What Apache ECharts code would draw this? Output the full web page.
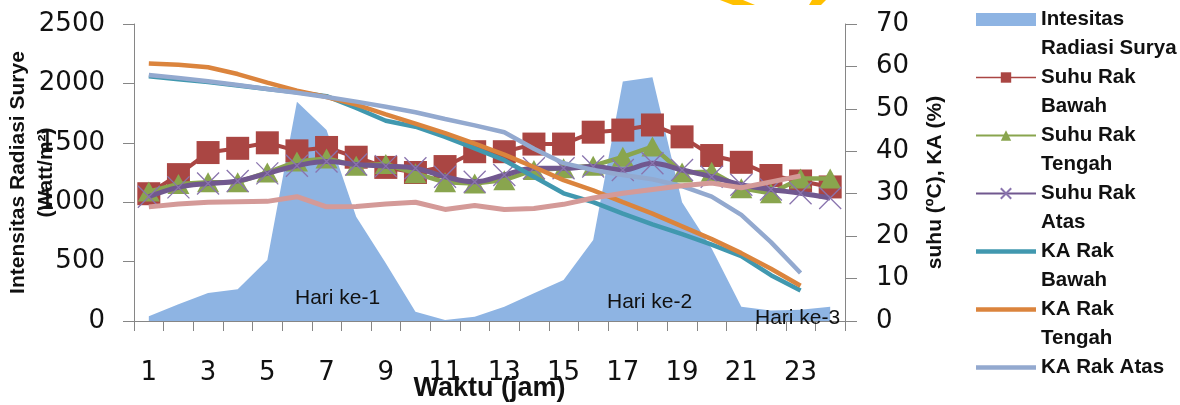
<!DOCTYPE html>
<html>
<head>
<meta charset="utf-8">
<script src="https://cdn.jsdelivr.net/npm/echarts@6/dist/echarts.min.js"></script>
<style>
  html, body { margin: 0; padding: 0; background: #ffffff; }
  #chart { width: 1180px; height: 405px; }
</style>
</head>
<body>
<div id="chart"></div>
<script>
// Hour of observation (x axis)
const hours = ['1','2','3','4','5','6','7','8','9','10','11','12',
               '13','14','15','16','17','18','19','20','21','22','23','24'];

// Solar radiation intensity, Watt/m2 (left axis)
const radiasi = [40, 140, 235, 268, 513, 1846, 1608, 878, 486, 78, 8, 36,
                 120, 233, 345, 682, 2017, 2051, 1000, 610, 120, 88, 95, 120];

// Rack temperatures, degC (right axis)
const suhuBawah  = [30.0, 34.5, 39.7, 40.7, 42.0, 40.1, 40.9, 38.6, 36.2, 35.0, 36.4, 39.9,
                    39.9, 41.7, 41.7, 44.5, 45.0, 46.2, 43.4, 39.0, 37.4, 34.3, 33.0, 31.6];
const suhuTengah = [30.5, 32.3, 32.7, 32.7, 35.0, 37.6, 38.3, 36.6, 37.0, 34.8, 32.7, 32.4,
                    33.2, 35.6, 36.0, 36.6, 38.7, 41.1, 35.0, 35.2, 31.3, 30.1, 33.6, 33.6];
const suhuAtas   = [29.3, 31.5, 32.4, 33.0, 34.8, 36.6, 37.6, 36.9, 36.5, 36.0, 34.0, 32.8,
                    34.4, 36.0, 36.0, 36.4, 35.6, 37.2, 35.6, 34.0, 32.1, 31.0, 30.1, 29.0];

// Moisture content of the racks, % (right axis)
const kaBawah  = [57.7, 57.0, 56.3, 55.5, 54.7, 53.9, 53.0, 50.2, 47.2, 45.8, 43.4, 40.7,
                  37.9, 34.0, 30.1, 28.0, 25.3, 22.8, 20.5, 18.0, 15.3, 10.8, 7.2, null];
const kaTengah = [60.7, 60.4, 59.8, 58.2, 56.2, 54.3, 52.8, 51.0, 48.7, 46.5, 44.3, 41.8,
                  39.2, 36.3, 33.2, 30.8, 28.0, 25.3, 22.3, 19.3, 16.0, 12.3, 8.3, null];
const kaAtas   = [58.0, 57.3, 56.5, 55.6, 54.7, 53.8, 52.8, 51.7, 50.5, 49.2, 47.6, 46.1,
                  44.5, 40.6, 37.2, 35.6, 34.4, 33.4, 31.8, 29.3, 25.0, 18.6, 11.3, null];

// Ambient temperature, degC (right axis, not listed in the legend)
const suhuLingkungan = [26.9, 27.6, 28.0, 28.1, 28.2, 29.3, 26.9, 27.0, 27.6, 28.0, 26.3, 27.2,
                        26.3, 26.5, 27.5, 29.0, 30.1, 31.0, 31.9, 32.5, 31.4, 32.8, 34.2, null];

// Legend entries and their wrapped text
const legendNames = ['Intesitas Radiasi Surya', 'Suhu Rak Bawah', 'Suhu Rak Tengah',
                     'Suhu Rak Atas', 'KA Rak Bawah', 'KA Rak Tengah', 'KA Rak Atas'];
const legendLines = {
  'Intesitas Radiasi Surya': ['Intesitas', 'Radiasi Surya'],
  'Suhu Rak Bawah': ['Suhu Rak', 'Bawah'],
  'Suhu Rak Tengah': ['Suhu Rak', 'Tengah'],
  'Suhu Rak Atas': ['Suhu Rak', 'Atas'],
  'KA Rak Bawah': ['KA Rak', 'Bawah'],
  'KA Rak Tengah': ['KA Rak', 'Tengah'],
  'KA Rak Atas': ['KA Rak Atas', ' ']
};

// Day annotations
const dayLabels = ['Hari ke-1', 'Hari ke-2', 'Hari ke-3'];

const C = {
  area: '#8EB4E3',
  red: '#AA4643',
  green: '#89A54E',
  purple: '#71588F',
  purpleMark: '#8A74AE',
  teal: '#4198AF',
  orange: '#DB843D',
  lightBlue: '#93A9CF',
  pink: '#D49A98',
  axis: '#868686',
  text: '#111111'
};

const tickFont = { fontFamily: 'DejaVu Sans', fontSize: 26, color: C.text };
const boldFont = { fontFamily: 'Liberation Sans', fontWeight: 'bold', color: C.text };
// plain horizontal bar used as legend icon for lines without markers
const lineIcon = 'path://M0,0L60,0L60,4.5L0,4.5Z';

const chart = echarts.init(document.getElementById('chart'), null, { renderer: 'canvas' });

const option = {
  animation: false,
  backgroundColor: '#ffffff',
  grid: { left: 134, right: 335, top: 24, bottom: 84, outerBoundsMode: 'none', containLabel: false },
  legend: {
    orient: 'vertical',
    left: 975,
    top: -24,
    height: 600,
    padding: 0,
    itemWidth: 60,
    itemHeight: 13,
    itemGap: -29,
    selectedMode: false,
    // a blank first line keeps the icon level with the entry's first text line
    formatter: name => ' \n' + legendLines[name].join('\n'),
    textStyle: Object.assign({}, boldFont, { fontSize: 20.5, lineHeight: 29 }),
    data: legendNames.map((n, i) => {
      const d = { name: n };
      if (i === 0) d.icon = 'rect';
      if (i === 1) d.lineStyle = { width: 1.5 };
      if (i >= 4) d.icon = lineIcon;
      return d;
    })
  },
  xAxis: {
    type: 'category',
    data: hours,
    boundaryGap: true,
    axisLine: { show: true, lineStyle: { color: C.axis, width: 1 } },
    axisTick: { show: true, interval: 0, length: 10, lineStyle: { color: C.axis, width: 1 } },
    axisLabel: Object.assign({ interval: 1, margin: 39 }, tickFont),
    splitLine: { show: false },
    name: 'Waktu (jam)',
    nameLocation: 'middle',
    nameGap: 54,
    nameMoveOverlap: false,
    nameTextStyle: Object.assign({ fontSize: 27 }, boldFont)
  },
  yAxis: [
    {
      type: 'value',
      position: 'left',
      min: 0, max: 2500, interval: 500,
      axisLine: { show: true, lineStyle: { color: C.axis, width: 1 } },
      axisTick: { show: true, length: 11, lineStyle: { color: C.axis, width: 1 } },
      axisLabel: Object.assign({ margin: 29, formatter: v => String(v) }, tickFont),
      splitLine: { show: false },
      name: 'Intensitas Radiasi Surye\n(Watt/m²)',
      nameLocation: 'middle',
      nameRotate: 90,
      nameGap: 74,
      nameMoveOverlap: false,
      nameTextStyle: Object.assign({ fontSize: 21, lineHeight: 28 }, boldFont)
    },
    {
      type: 'value',
      position: 'right',
      min: 0, max: 70, interval: 10,
      axisLine: { show: true, lineStyle: { color: C.axis, width: 1 } },
      axisTick: { show: true, length: 12, lineStyle: { color: C.axis, width: 1 } },
      axisLabel: Object.assign({ margin: 31 }, tickFont),
      splitLine: { show: false },
      name: 'suhu (ºC), KA (%)',
      nameLocation: 'middle',
      nameRotate: 90,
      nameGap: 80,
      nameMoveOverlap: false,
      // extra space on the reading end nudges the title down the axis
      nameTextStyle: Object.assign({ fontSize: 21, padding: [0, 20, 0, 0] }, boldFont)
    }
  ],
  series: [
    {
      name: 'Intesitas Radiasi Surya',
      type: 'line',
      yAxisIndex: 0,
      data: radiasi,
      symbol: 'none',
      color: C.area,
      lineStyle: { width: 0 },
      areaStyle: { color: C.area, opacity: 1 },
      z: 1
    },
    {
      name: 'Suhu Rak Bawah',
      type: 'line',
      yAxisIndex: 1,
      data: suhuBawah,
      symbol: 'rect',
      symbolSize: 23,
      showAllSymbol: true,
      color: C.red,
      itemStyle: { color: C.red },
      lineStyle: { color: C.red, width: 4 },
      z: 3
    },
    {
      name: 'Suhu Rak Tengah',
      type: 'line',
      yAxisIndex: 1,
      data: suhuTengah,
      symbol: 'triangle',
      symbolSize: [22, 20],
      showAllSymbol: true,
      color: C.green,
      itemStyle: { color: C.green },
      lineStyle: { color: C.green, width: 4.5 },
      z: 4
    },
    {
      name: 'Suhu Rak Atas',
      type: 'line',
      yAxisIndex: 1,
      data: suhuAtas,
      smooth: 0.4,
      symbol: 'path://M0,0L10,10M10,0L0,10',
      symbolSize: 22,
      showAllSymbol: true,
      color: C.purple,
      itemStyle: { color: 'none', borderColor: C.purpleMark, borderWidth: 1.3 },
      lineStyle: { color: C.purple, width: 5 },
      z: 5
    },
    {
      name: 'KA Rak Bawah',
      type: 'line',
      yAxisIndex: 1,
      data: kaBawah,
      symbol: 'none',
      color: C.teal,
      lineStyle: { color: C.teal, width: 4.5 },
      z: 6
    },
    {
      name: 'KA Rak Tengah',
      type: 'line',
      yAxisIndex: 1,
      data: kaTengah,
      symbol: 'none',
      color: C.orange,
      lineStyle: { color: C.orange, width: 4.5 },
      z: 7
    },
    {
      name: 'KA Rak Atas',
      type: 'line',
      yAxisIndex: 1,
      data: kaAtas,
      symbol: 'none',
      color: C.lightBlue,
      lineStyle: { color: C.lightBlue, width: 4.5 },
      z: 8
    },
    {
      name: 'Suhu Lingkungan',
      type: 'line',
      yAxisIndex: 1,
      data: suhuLingkungan,
      symbol: 'none',
      color: C.pink,
      lineStyle: { color: C.pink, width: 5 },
      z: 9
    }
  ],
  graphic: [
    { type: 'text', left: 295, top: 288, z: 100,
      style: { text: dayLabels[0], font: '21px "Liberation Sans"', fill: C.text } },
    { type: 'text', left: 607, top: 292, z: 100,
      style: { text: dayLabels[1], font: '21px "Liberation Sans"', fill: C.text } },
    { type: 'text', left: 755, top: 308, z: 100,
      style: { text: dayLabels[2], font: '21px "Liberation Sans"', fill: C.text } },
    // partial yellow logo strokes along the top edge
    { type: 'polygon', z: 100, shape: { points: [[720, 0], [743, 0], [755, 5], [733, 5]] },
      style: { fill: '#FFC000' } },
    { type: 'polygon', z: 100, shape: { points: [[812, 0], [826, 0], [821, 5], [809, 5]] },
      style: { fill: '#FFC000' } }
  ]
};

chart.setOption(option);
</script>
</body>
</html>
